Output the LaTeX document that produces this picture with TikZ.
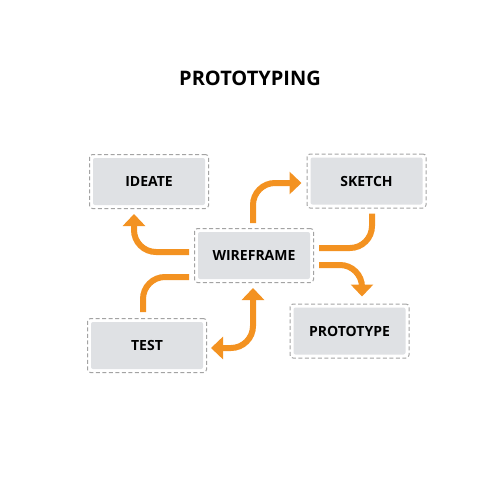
\documentclass[tikz,border=0pt]{standalone}
\usepackage{fontspec}
\setmainfont{Open Sans}
\usetikzlibrary{arrows.meta}
\definecolor{flowOrange}{HTML}{F39221}
\definecolor{stageGray}{HTML}{DFE1E4}
\definecolor{frameGray}{HTML}{A3A3A3}
\tikzset{
  stage/.style={fill=stageGray, rounded corners=2pt, minimum width=112pt,
    minimum height=47pt, inner sep=0pt, font=\fontsize{14}{15}\selectfont\bfseries},
  frame/.style={draw=frameGray, dashed, dash pattern=on 4pt off 2.5pt, line width=1pt,
    rounded corners=3pt, minimum width=119pt, minimum height=54pt, inner sep=0pt},
  flow/.style={draw=flowOrange, line width=6pt, rounded corners=22pt},
  tip/.style={-{Triangle[width=22pt,length=12pt]}}
}
\begin{document}
\begin{tikzpicture}[x=1pt,y=-1pt]
  \useasboundingbox (0,0) rectangle (500,500);
  % Title
  \node[font=\fontsize{20}{21}\selectfont\bfseries] (title) at (250,78) {PROTOTYPING};

  % Stages: dashed frame with a gray box inside
  \node[frame] (ideateF) at (149,181.5) {};
  \node[stage] (ideate) at (149,181.5) {IDEATE};

  \node[frame] (sketchF) at (366.5,181) {};
  \node[stage] (sketch) at (366.5,181) {SKETCH};

  \node[frame] (wireF) at (254,255.5) {};
  \node[stage] (wire) at (254,255.5) {WIREFRAME};

  \node[frame] (testF) at (147,345.5) {};
  \node[stage] (test) at (147,345.5) {TEST};

  \node[frame] (protoF) at (349.5,331) {};
  \node[stage] (proto) at (349.5,331) {PROTOTYPE};

  % Orange connectors
  \draw[flow,tip] ([shift={(-5,-3.5)}]wireF.west) -| ([shift={(-15,5)}]ideateF.south);
  \draw[flow,tip] ([shift={(-1,-5)}]wireF.north) |- ([shift={(-5,2)}]sketchF.west);
  \draw[flow] ([shift={(5.5,5)}]sketchF.south) |- ([shift={(5,-7.5)}]wireF.east);
  \draw[flow,tip] ([shift={(5,9.5)}]wireF.east) -| ([shift={(12.5,-7)}]protoF.north);
  \draw[flow] ([shift={(-4,-6)}]testF.north) |- ([shift={(-5,21.5)}]wireF.west);
  % Two-way link between wireframe and test
  \draw[flow,{Triangle[width=22pt,length=12pt]}-{Triangle[width=22pt,length=12pt]}]
    ([shift={(-1,5)}]wireF.south) |- ([shift={(4,2.5)}]testF.east);
\end{tikzpicture}
\end{document}
